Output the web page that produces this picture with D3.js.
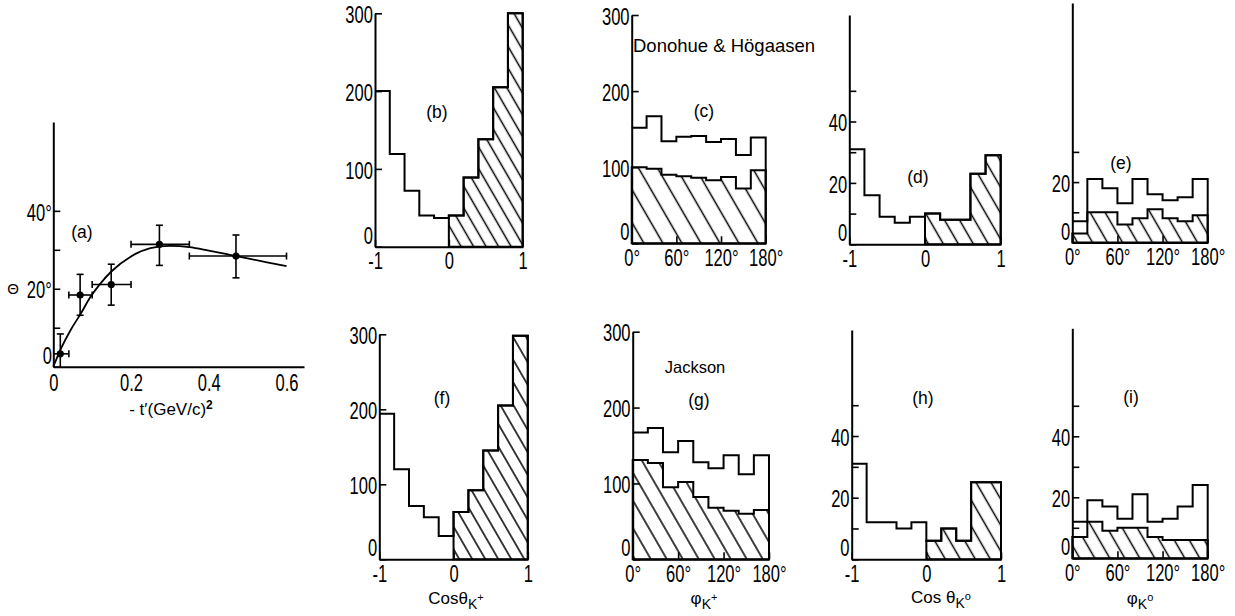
<!DOCTYPE html>
<html>
<head>
<meta charset="utf-8">
<script src="https://cdn.jsdelivr.net/npm/d3@7"></script>
<style>
  html, body { margin: 0; padding: 0; background: #fff; }
  svg { display: block; }
</style>
</head>
<body>
<svg id="fig" width="1235" height="616"></svg>
<script>
// ---------- Panel (a): rotation angle Θ versus -t' ----------
const tPrime    = [0.018, 0.069, 0.149, 0.273, 0.47];
const theta     = [3.3, 18.4, 21.1, 31.4, 28.4];
const thetaLow  = [0, 13.2, 15.8, 26.0, 22.8];
const thetaHigh = [8.4, 23.7, 26.3, 36.3, 33.8];
const tLow      = [0, 0.04, 0.10, 0.20, 0.35];
const tHigh     = [0.04, 0.10, 0.20, 0.35, 0.60];
const fitT      = [0, 0.02, 0.045, 0.07, 0.095, 0.12, 0.15, 0.2, 0.25, 0.3, 0.35, 0.4, 0.45, 0.5, 0.55, 0.6];
const fitTheta  = [0, 4.7, 9.5, 13.5, 17.8, 21.2, 24.5, 28.3, 30.4, 31.0, 30.7, 29.8, 28.8, 27.8, 26.8, 25.8];
const tTicks       = [0, 0.2, 0.4, 0.6];
const tTickLabels  = ["0", "0.2", "0.4", "0.6"];
const thetaTicks      = [0, 10, 20, 30, 40];
const thetaTickLabels = ["0", "", "20°", "", "40°"];

// ---------- Histogram bins ----------
const cosEdges = [-1, -0.8, -0.6, -0.4, -0.2, 0, 0.2, 0.4, 0.6, 0.8, 1];
const phiEdges = [0, 20, 40, 60, 80, 100, 120, 140, 160, 180];
const cosTicks = [-1, 0, 1];
const cosTickLabels = ["-1", "0", "1"];
const phiTicks = [0, 60, 120, 180];
const phiTickLabels = ["0°", "60°", "120°", "180°"];
const bigTicks = [0, 100, 200, 300];
const bigTickLabels = ["0", "100", "200", "300"];
const smallTicks = [0, 10, 20, 30, 40, 50];
const smallTickLabels = ["0", "", "20", "", "40", ""];
const smallTicksE = [0, 10, 20, 30];
const smallTickLabelsE = ["0", "", "20", ""];

// Donohue & Högaasen frame (top row)
const cosKplusDH   = [200, 119, 72, 40, 37, 40, 89, 138, 205, 300];       // (b)
const phiKplusDH   = [152, 167, 134, 140, 141, 133, 137, 116, 139];       // (c) all
const phiKplusDHf  = [100, 98, 90, 88, 86, 83, 87, 72, 96];               // (c) forward
const cosK0DH      = [31, 16, 9, 7, 9, 10, 8, 8, 23, 29];                 // (d)
const phiK0DH      = [7, 21, 18, 13, 21, 16, 14, 15, 21];                 // (e) all
const phiK0DHf     = [3, 10, 10, 6, 8, 11, 8, 7, 9];                      // (e) forward

// Jackson frame (bottom row)
const cosKplusJ    = [194, 120, 71, 56, 31, 63, 92, 145, 205, 298];       // (f)
const phiKplusJ    = [167, 173, 141, 156, 128, 120, 137, 112, 137];       // (g) all
const phiKplusJf   = [131, 127, 95, 102, 82, 68, 64, 60, 65];             // (g) forward
const cosK0J       = [31, 12, 12, 10, 12, 6, 10, 6, 25, 25];              // (h)
const phiK0J       = [12, 19, 17, 13, 21, 12, 13, 17, 24];                // (i) all
const phiK0Jf      = [7, 12, 9, 10, 10, 7, 6, 6, 6];                      // (i) forward

const NUM_FONT = "'Liberation Sans',Arial,sans-serif";
const TXT_FONT = "'Liberation Sans',Arial,'DejaVu Sans',sans-serif";
const NARROW = 0.72;

const svg = d3.select("#fig");
const defs = svg.append("defs");

function hatchPattern(id, spacing) {
  const s = spacing * Math.sin(Math.PI / 3);
  const p = defs.append("pattern")
    .attr("id", id)
    .attr("patternUnits", "userSpaceOnUse")
    .attr("width", s).attr("height", 20)
    .attr("patternTransform", "rotate(-30)");
  p.append("line")
    .attr("x1", s / 2).attr("y1", -2).attr("x2", s / 2).attr("y2", 22)
    .attr("stroke", "#000").attr("stroke-width", 1.5);
}

function styleAxis(g, size) {
  g.attr("font-family", NUM_FONT).attr("font-size", size);
  g.select(".domain").attr("stroke", "#000").attr("stroke-width", 2);
  g.selectAll(".tick line").attr("stroke", "#000").attr("stroke-width", 1.6);
  g.selectAll(".tick text").attr("fill", "#000")
    .attr("transform", `scale(${NARROW},1)`);
}

function histPoints(edges, vals) {
  return vals.map((v, i) => [edges[i], v]).concat([[edges[edges.length - 1], vals[vals.length - 1]]]);
}

function label(x, y, text, size) {
  svg.append("text")
    .attr("x", x).attr("y", y)
    .attr("text-anchor", "middle")
    .attr("font-family", TXT_FONT)
    .attr("font-size", size || 17.5)
    .attr("fill", "#000")
    .text(text);
}

// ---------- Panel (a) ----------
(function () {
  const x = d3.scaleLinear().domain([0, 0.645]).range([53.3, 304]);
  const y = d3.scaleLinear().domain([0, 62.8]).range([366.7, 122]);
  const g = svg.append("g");

  const gx = g.append("g").attr("transform", `translate(0,${y(0)})`)
    .call(d3.axisBottom(x).tickValues(tTicks).tickFormat((d, i) => tTickLabels[i])
      .tickSizeInner(0).tickSizeOuter(0).tickPadding(8));
  styleAxis(gx, 23);
  const gy = g.append("g").attr("transform", `translate(${x(0)},0)`)
    .call(d3.axisLeft(y).tickValues(thetaTicks).tickFormat((d, i) => thetaTickLabels[i])
      .tickSizeInner(-7).tickSizeOuter(0).tickPadding(2));
  styleAxis(gy, 23);
  gy.selectAll(".tick text").attr("dy", d => d === 0 ? "-0.12em" : "0.4em");

  const fit = d3.line().x(d => x(d[0])).y(d => y(d[1])).curve(d3.curveMonotoneX);
  g.append("path").datum(fitT.map((t, i) => [t, fitTheta[i]]))
    .attr("d", fit).attr("fill", "none").attr("stroke", "#000").attr("stroke-width", 1.8);

  const pts = tPrime.map((t, i) => ({ t, th: theta[i], lo: thetaLow[i], hi: thetaHigh[i], tl: tLow[i], th2: tHigh[i] }));
  const cap = 3.5;
  const eg = g.append("g").attr("stroke", "#000").attr("stroke-width", 1.6);
  pts.forEach(p => {
    eg.append("line").attr("x1", x(p.t)).attr("x2", x(p.t)).attr("y1", y(p.lo)).attr("y2", y(p.hi));
    eg.append("line").attr("x1", x(p.tl)).attr("x2", x(p.th2)).attr("y1", y(p.th)).attr("y2", y(p.th));
    eg.append("line").attr("x1", x(p.t) - cap).attr("x2", x(p.t) + cap).attr("y1", y(p.hi)).attr("y2", y(p.hi));
    if (p.lo > 0) eg.append("line").attr("x1", x(p.t) - cap).attr("x2", x(p.t) + cap).attr("y1", y(p.lo)).attr("y2", y(p.lo));
    if (p.tl > 0) eg.append("line").attr("x1", x(p.tl)).attr("x2", x(p.tl)).attr("y1", y(p.th) - cap).attr("y2", y(p.th) + cap);
    eg.append("line").attr("x1", x(p.th2)).attr("x2", x(p.th2)).attr("y1", y(p.th) - cap).attr("y2", y(p.th) + cap);
  });
  g.selectAll("circle.pt").data(pts).enter().append("circle")
    .attr("cx", d => x(d.t)).attr("cy", d => y(d.th)).attr("r", 3.6).attr("fill", "#000");

  label(82, 238, "(a)");
  svg.append("text").attr("x", 13).attr("y", 294).attr("text-anchor", "middle")
    .attr("font-family", TXT_FONT).attr("font-size", 15).text("Θ");
  const xt = svg.append("text").attr("x", 171).attr("y", 415).attr("text-anchor", "middle")
    .attr("font-family", TXT_FONT).attr("font-size", 17);
  xt.append("tspan").text("- t′(GeV/c)");
  xt.append("tspan").attr("dy", -6).attr("font-size", 12).attr("font-weight", "bold").text("2");
})();

// ---------- Histogram panels ----------
const layout = {
  b: { left: 375.0, right: 522.7, bottom: 246.7, top: 13.3, yMax: 300, hatch: 12.5 },
  c: { left: 631.7, right: 765.7, bottom: 243.3, top: 15.0, yMax: 300, hatch: 19 },
  d: { left: 849.3, right: 1000.7, bottom: 244.3, top: 15.0, yMax: 74.7, hatch: 15 },
  e: { left: 1072.3, right: 1207.7, bottom: 242.5, top: 3.0, yMax: 79.3, hatch: 15 },
  f: { left: 379.3, right: 527.8, bottom: 559.3, top: 334.3, yMax: 300, hatch: 13 },
  g: { left: 632.7, right: 769.0, bottom: 559.3, top: 331.7, yMax: 300, hatch: 16 },
  h: { left: 851.7, right: 1001.0, bottom: 559.3, top: 330.0, yMax: 74.4, hatch: 15 },
  i: { left: 1072.3, right: 1207.7, bottom: 558.3, top: 328.3, yMax: 75.4, hatch: 15 }
};

const panels = [
  { id: "b", kind: "cos", all: cosKplusDH, yt: bigTicks, yl: bigTickLabels },
  { id: "c", kind: "phi", all: phiKplusDH, fwd: phiKplusDHf, yt: bigTicks, yl: bigTickLabels },
  { id: "d", kind: "cos", all: cosK0DH, yt: smallTicks, yl: smallTickLabels },
  { id: "e", kind: "phi", all: phiK0DH, fwd: phiK0DHf, yt: smallTicksE, yl: smallTickLabelsE },
  { id: "f", kind: "cos", all: cosKplusJ, yt: bigTicks, yl: bigTickLabels },
  { id: "g", kind: "phi", all: phiKplusJ, fwd: phiKplusJf, yt: bigTicks, yl: bigTickLabels },
  { id: "h", kind: "cos", all: cosK0J, yt: smallTicks, yl: smallTickLabels },
  { id: "i", kind: "phi", all: phiK0J, fwd: phiK0Jf, yt: smallTicks, yl: smallTickLabels }
];

panels.forEach(p => {
  const L = layout[p.id];
  const edges = p.kind === "cos" ? cosEdges : phiEdges;
  const x = d3.scaleLinear().domain([edges[0], edges[edges.length - 1]]).range([L.left, L.right]);
  const y = d3.scaleLinear().domain([0, L.yMax]).range([L.bottom, L.top]);
  const g = svg.append("g").attr("class", "panel-" + p.id);
  hatchPattern("hatch-" + p.id, L.hatch);

  const line = d3.line().x(d => x(d[0])).y(d => y(d[1])).curve(d3.curveStepAfter);
  const area = d3.area().x(d => x(d[0])).y0(y(0)).y1(d => y(d[1])).curve(d3.curveStepAfter);

  let fwdPts;
  if (p.kind === "cos") {
    const k = edges.indexOf(0);
    fwdPts = histPoints(edges.slice(k), p.all.slice(k));
  } else {
    fwdPts = histPoints(edges, p.fwd);
  }
  g.append("path").datum(fwdPts).attr("d", area)
    .attr("fill", `url(#hatch-${p.id})`).attr("stroke", "#000").attr("stroke-width", 2);
  const allPts = histPoints(edges, p.all).concat([[edges[edges.length - 1], 0]]);
  g.append("path").datum(allPts).attr("d", line)
    .attr("fill", "none").attr("stroke", "#000").attr("stroke-width", 2);

  const xt = p.kind === "cos" ? cosTicks : phiTicks;
  const xl = p.kind === "cos" ? cosTickLabels : phiTickLabels;
  const gx = g.append("g").attr("transform", `translate(0,${L.bottom})`)
    .call(d3.axisBottom(x).tickValues(xt).tickFormat((d, i) => xl[i])
      .tickSizeInner(-7).tickSizeOuter(0).tickPadding(6));
  styleAxis(gx, 23);
  const gy = g.append("g").attr("transform", `translate(${L.left},0)`)
    .call(d3.axisLeft(y).tickValues(p.yt).tickFormat((d, i) => p.yl[i])
      .tickSizeInner(-7).tickSizeOuter(0).tickPadding(3));
  styleAxis(gy, 23);
  // the zero label sits just above the baseline
  gy.selectAll(".tick text").attr("dy", d => d === 0 ? "-0.15em" : "0.4em");
});

// ---------- Panel letters and frame names ----------
label(437, 118, "(b)");
label(704, 117, "(c)");
label(918, 183, "(d)");
label(1121, 169, "(e)");
label(442, 404, "(f)");
label(699, 406, "(g)");
label(923, 404, "(h)");
label(1131, 403, "(i)");

svg.append("text").attr("x", 633).attr("y", 52)
  .attr("font-family", TXT_FONT).attr("font-size", 18.5).text("Donohue & Högaasen");
svg.append("text").attr("x", 695).attr("y", 373).attr("text-anchor", "middle")
  .attr("font-family", TXT_FONT).attr("font-size", 16.5).text("Jackson");

// ---------- Variable names under the bottom row ----------
function varLabel(xc, yb, main, sup) {
  const t = svg.append("text").attr("x", xc).attr("y", yb).attr("text-anchor", "middle")
    .attr("font-family", TXT_FONT).attr("font-size", 17).attr("fill", "#000");
  t.append("tspan").text(main);
  t.append("tspan").attr("dy", 5).attr("font-size", 14).text("K");
  t.append("tspan").attr("dy", -8).attr("font-size", 11).text(sup);
}
varLabel(456, 604, "Cosθ", "+");
varLabel(704, 604, "φ", "+");
varLabel(941, 603, "Cos θ", "o");
varLabel(1140, 604, "φ", "o");
</script>
</body>
</html>
